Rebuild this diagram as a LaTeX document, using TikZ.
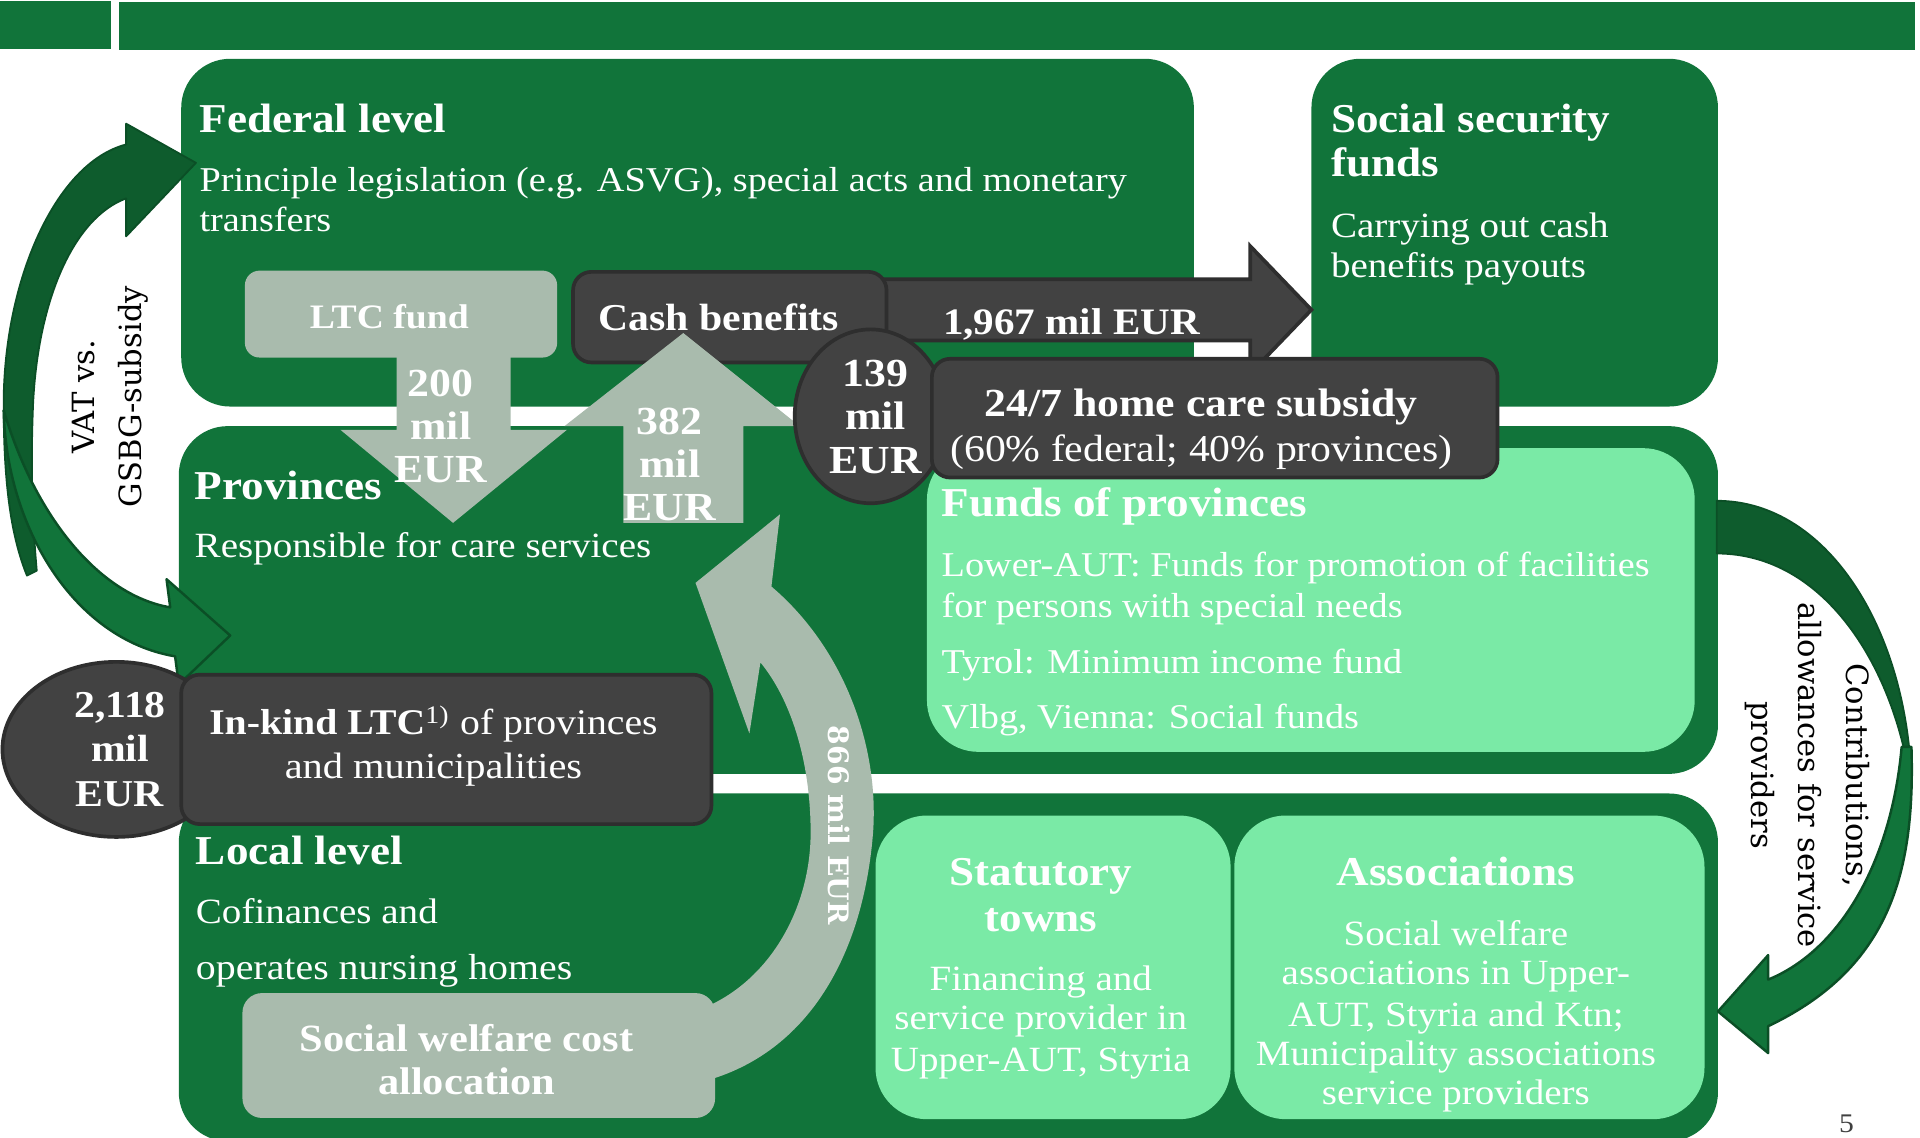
\documentclass[tikz,border=0pt]{standalone}
\usepackage{fontspec}
\setmainfont{Liberation Serif}[FakeStretch=1.1]
\newfontfamily\lblfont{DejaVu Serif}
\usetikzlibrary{shapes.geometric}

\definecolor{gDark}{HTML}{11743A}
\definecolor{gShade}{HTML}{0E5C2D}
\definecolor{gEdge}{HTML}{0B4F26}
\definecolor{gLight}{HTML}{7AEAA6}
\definecolor{gGrey}{HTML}{A9BBAD}
\definecolor{cDark}{HTML}{424242}
\definecolor{cEdge}{HTML}{2E2E2E}
\definecolor{pageNo}{HTML}{404040}

\newcommand\fhead{\fontsize{33.5}{37}\selectfont\bfseries}
\newcommand\fbody{\fontsize{29}{33}\selectfont}
\newcommand\fbodysm{\fontsize{28.4}{33}\selectfont}
\newcommand\fnum{\fontsize{32.5}{35}\selectfont\bfseries}

% box node from its corner coordinates: style, name, x1, y1, x2, y2
\newcommand\blk[6]{\node[#1, minimum width={(#5-(#3))*1pt}, minimum height={(#6-(#4))*1pt}] (#2) at ({(#3+#5)/2},{(#4+#6)/2}) {};}

\begin{document}
\begin{tikzpicture}[x=1pt, y=-1pt,
  base/.style={inner sep=0pt, outer sep=0pt},
  bar/.style={base, fill=gDark},
  lvl/.style={base, fill=gDark, rounded corners=40pt},
  pale/.style={base, fill=gLight, rounded corners=42pt},
  greybox/.style={base, fill=gGrey, rounded corners=12pt},
  darkbox/.style={base, fill=cDark, draw=cEdge, line width=3pt, rounded corners=15pt},
  darkoval/.style={base, ellipse, fill=cDark, draw=cEdge, line width=3pt},
  blockarrow/.style={fill=gGrey},
  darkarrow/.style={fill=cDark, draw=cEdge, line width=3pt, line join=miter},
  swoosh/.style={fill=gDark, draw=gEdge, line width=2pt, line join=round},
  swooshback/.style={fill=gShade, draw=gEdge, line width=1.5pt, line join=round},
  t/.style={base, text=white},
  lbl/.style={base, text=black, align=center, font={\lblfont\fontsize{25}{39}\selectfont}}
]
\useasboundingbox (0,0) rectangle (1568,929);

% title bar
\blk{bar}{barA}{0}{1}{91}{40}
\blk{bar}{barB}{97}{2}{1564}{41}

% level panels
\blk{lvl}{fed}{148}{48}{975}{332}
\blk{lvl}{soc}{1071}{48}{1403}{332}
\blk{lvl}{prov}{146}{348}{1403}{632}
\blk{lvl}{local}{146}{648}{1403}{932}
\blk{pale}{funds}{757}{366}{1384}{614}
\blk{pale}{stat}{715}{666}{1005}{914}
\blk{pale}{assoc}{1008}{666}{1392}{914}

% VAT vs. GSBG-subsidy: two curved arrows on the left
\path[swooshback] (103,118) .. controls (45,133) and (3,230) .. (3,330)
  .. controls (3,400) and (10,440) .. (22,470) -- (30,466)
  .. controls (26,420) and (25,380) .. (27,330)
  .. controls (31,245) and (60,178) .. (103,162)
  -- (103,193) -- (160,133) -- (103,101) -- cycle;
\path[swoosh] (3,335) .. controls (5,430) and (60,522) .. (143,536)
  -- (146,559) -- (188,519) -- (136,473) -- (139,496)
  .. controls (80,486) and (28,420) .. (3,335) -- cycle;

% contributions: curved arrow on the right
\path[swooshback] (1402,409) .. controls (1495,409) and (1560,520) .. (1561,645)
  .. controls (1548,545) and (1490,452) .. (1402,452) -- cycle;
\path[swoosh] (1561,610) .. controls (1564,710) and (1545,790) .. (1444,838)
  -- (1444,860) -- (1403,826) -- (1444,780) -- (1444,800)
  .. controls (1505,775) and (1545,700) .. (1553,610) -- cycle;

% LTC fund and its transfer down to the provinces
\blk{greybox}{ltc}{200}{221}{455}{292}
\path[blockarrow] (324,285) -- (417,285) -- (417,351) -- (463,351) -- (370,427)
  -- (278,351) -- (324,351) -- cycle;

% cash benefits and their flows
\path[darkarrow] (715,228) -- (1021,228) -- (1021,201) -- (1071,253) -- (1021,305)
  -- (1021,278) -- (715,278) -- cycle;
\blk{darkbox}{cash}{468}{222}{724}{296}
\path[blockarrow] (509,427) -- (607,427) -- (607,348) -- (653,348) -- (558,272)
  -- (461,348) -- (509,348) -- cycle;
\node[darkoval, minimum width=124pt, minimum height=142pt] (c139) at (711,340) {};
\blk{darkbox}{homecare}{761}{293}{1223}{390}

% in-kind LTC
\node[darkoval, minimum width=186pt, minimum height=143pt] (c2118) at (95,612) {};
\blk{darkbox}{inkind}{148}{551}{581}{673}

% social welfare cost allocation and its flow up to the provinces
\blk{base, fill=gGrey, rounded corners=16pt}{swc}{198}{811}{584}{913}
\path[blockarrow] (575,883) .. controls (660,860) and (705,780) .. (713,680)
  .. controls (718,610) and (690,530) .. (630,479)
  -- (637,420) -- (568,476) -- (612,599) -- (621,541)
  .. controls (645,570) and (662,620) .. (662,680)
  .. controls (662,740) and (630,800) .. (575,823) -- cycle;

% ---- texts ----
\node[t, anchor=base west, font=\fhead] (fedT) at (163,108) {Federal level};
\node[t, anchor=base west, font=\fbodysm] (fedB1) at (163,156) {Principle legislation (e.g. ASVG), special acts and monetary};
\node[t, anchor=base west, font=\fbodysm] (fedB2) at (163,189) {transfers};

\node[t, anchor=base west, font=\fhead] (socT1) at (1087,108) {Social security};
\node[t, anchor=base west, font=\fhead] (socT2) at (1087,144) {funds};
\node[t, anchor=base west, font=\fbody] (socB1) at (1087,194) {Carrying out cash};
\node[t, anchor=base west, font=\fbody] (socB2) at (1087,227) {benefits payouts};

\node[t, anchor=base, font=\fontsize{28}{31}\selectfont\bfseries] (ltcT) at (318,268) {LTC fund};
\node[t, anchor=base, font=\fontsize{31}{34}\selectfont\bfseries] (cashT) at (587,270) {Cash benefits};
\node[t, anchor=base, font=\fontsize{30.5}{34}\selectfont\bfseries] (flowA) at (875,273) {1,967 mil EUR};

\node[t, anchor=base, font=\fnum] (d1) at (360,324) {200};
\node[t, anchor=base, font=\fnum] (d2) at (360,359) {mil};
\node[t, anchor=base, font=\fnum] (d3) at (360,394) {EUR};

\node[t, anchor=base, font=\fnum] (u1) at (547,355) {382};
\node[t, anchor=base, font=\fnum] (u2) at (547,390) {mil};
\node[t, anchor=base, font=\fnum] (u3) at (547,425) {EUR};

\node[t, anchor=base, font=\fnum] (h1) at (715,316) {139};
\node[t, anchor=base, font=\fnum] (h2) at (715,351) {mil};
\node[t, anchor=base, font=\fnum] (h3) at (715,387) {EUR};

\node[t, anchor=base, font=\fontsize{32.5}{35}\selectfont\bfseries] (hcT) at (981,340) {24/7 home care subsidy};
\node[t, anchor=base, font=\fontsize{31}{34}\selectfont] (hcB) at (981,377) {(60\% federal; 40\% provinces)};

\node[t, anchor=base west, font=\fhead] (provT) at (159,408) {Provinces};
\node[t, anchor=base west, font=\fbody] (provB) at (159,455) {Responsible for care services};

\node[t, anchor=base west, font=\fhead] (fundsT) at (769,422) {Funds of provinces};
\node[t, anchor=base west, font=\fbodysm] (fundsB1) at (769,471) {Lower-AUT: Funds for promotion of facilities};
\node[t, anchor=base west, font=\fbodysm] (fundsB2) at (769,504) {for persons with special needs};
\node[t, anchor=base west, font=\fbodysm] (fundsB3) at (769,550) {Tyrol: Minimum income fund};
\node[t, anchor=base west, font=\fbodysm] (fundsB4) at (769,595) {Vlbg, Vienna: Social funds};

\node[t, anchor=base, font=\fontsize{31}{34}\selectfont\bfseries] (k1) at (98,586) {2,118};
\node[t, anchor=base, font=\fontsize{31}{34}\selectfont\bfseries] (k2) at (98,622) {mil};
\node[t, anchor=base, font=\fontsize{31}{34}\selectfont\bfseries] (k3) at (98,659) {EUR};

\node[t, anchor=base, font=\fontsize{29.5}{33}\selectfont] (ikT1) at (354,600) {\textbf{In-kind LTC}\textsuperscript{1)}\hspace{9pt}of provinces};
\node[t, anchor=base, font=\fontsize{30}{33}\selectfont] (ikT2) at (354,636) {and municipalities};

\node[t, anchor=base west, font=\fhead] (locT) at (160,706) {Local level};
\node[t, anchor=base west, font=\fbody] (locB1) at (160,754) {Cofinances and};
\node[t, anchor=base west, font=\fontsize{29.6}{33}\selectfont] (locB2) at (160,800) {operates nursing homes};

\node[t, anchor=base, font=\fontsize{31.5}{34}\selectfont\bfseries] (swc1) at (381,859) {Social welfare cost};
\node[t, anchor=base, font=\fontsize{31.5}{34}\selectfont\bfseries] (swc2) at (381,894) {allocation};

\node[t, anchor=base, font=\fhead] (statT1) at (850,723) {Statutory};
\node[t, anchor=base, font=\fhead] (statT2) at (850,761) {towns};
\node[t, anchor=base, font=\fbody] (statB1) at (850,809) {Financing and};
\node[t, anchor=base, font=\fbody] (statB2) at (850,841) {service provider in};
\node[t, anchor=base, font=\fbody] (statB3) at (850,875) {Upper-AUT, Styria};

\node[t, anchor=base, font=\fhead] (assocT) at (1189,723) {Associations};
\node[t, anchor=base, font=\fbody] (assocB1) at (1189,772) {Social welfare};
\node[t, anchor=base, font=\fbody] (assocB2) at (1189,804) {associations in Upper-};
\node[t, anchor=base, font=\fbody] (assocB3) at (1189,838) {AUT, Styria and Ktn;};
\node[t, anchor=base, font=\fbody] (assocB4) at (1189,870) {Municipality associations};
\node[t, anchor=base, font=\fbody] (assocB5) at (1189,902) {service providers};

% rotated flow labels
\node[t, rotate=-90, font={\lblfont\bfseries\fontsize{23}{28}\selectfont}] (flowB) at (685,674) {866 mil EUR};
\node[lbl, rotate=90] (vat) at (90,324) {VAT vs.\\GSBG-subsidy};
\node[lbl, rotate=-90] (contrib) at (1476,633) {Contributions,\\allowances for service\\providers};

% page number
\node[base, anchor=base, text=pageNo, font=\fontsize{22}{24}\selectfont] (pg) at (1508,925) {5};
\end{tikzpicture}
\end{document}
